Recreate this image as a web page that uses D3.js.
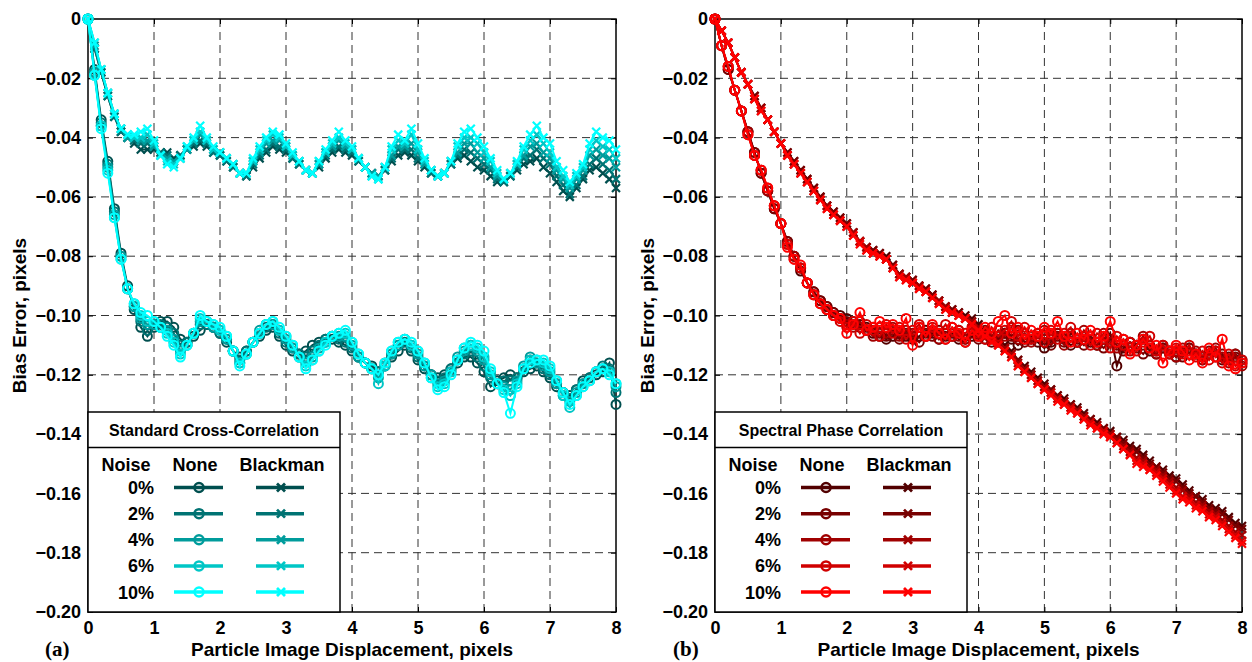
<!DOCTYPE html>
<html><head><meta charset="utf-8">
<script src="https://cdn.jsdelivr.net/npm/d3@7"></script>
<style>body{margin:0;background:#fff}svg{display:block}</style>
</head><body>
<svg id="c" width="1252" height="662"></svg>
<script>
// ---------------- DATA ----------------
const displacement = d3.range(81).map(i => i / 10); // 0 .. 8 px, step 0.1
const noiseLabels = ["0%", "2%", "4%", "6%", "10%"];
const xTicks = [0, 1, 2, 3, 4, 5, 6, 7, 8];
const yTicks = [0, -0.02, -0.04, -0.06, -0.08, -0.10, -0.12, -0.14, -0.16, -0.18, -0.20];
const panelTitles = ["Standard Cross-Correlation", "Spectral Phase Correlation"];
const panelLetters = ["(a)", "(b)"];
const cyanColors = ["#004f4f", "#007373", "#009c9c", "#00c6c6", "#00ffff"];
const redColors = ["#520000", "#780000", "#a00000", "#d00000", "#ff0000"];

// (a) Standard cross-correlation, no window (circles)
const scc_none_0 = [0,-0.017,-0.034,-0.048,-0.064,-0.079,-0.090,-0.098,-0.104,-0.107,
 -0.104,-0.102,-0.102,-0.104,-0.108,-0.109,-0.107,-0.105,-0.103,-0.104,
 -0.106,-0.109,-0.112,-0.114,-0.112,-0.109,-0.107,-0.105,-0.104,-0.107,
 -0.110,-0.112,-0.113,-0.112,-0.110,-0.109,-0.108,-0.108,-0.109,-0.110,
 -0.112,-0.114,-0.116,-0.117,-0.119,-0.117,-0.114,-0.112,-0.110,-0.112,
 -0.115,-0.118,-0.120,-0.121,-0.120,-0.118,-0.116,-0.114,-0.114,-0.116,
 -0.119,-0.124,-0.122,-0.121,-0.120,-0.121,-0.119,-0.118,-0.117,-0.119,
 -0.121,-0.124,-0.126,-0.127,-0.125,-0.122,-0.121,-0.120,-0.119,-0.116,
 -0.130];
const scc_none_2 = [0,-0.018,-0.035,-0.049,-0.065,-0.080,-0.091,-0.097,-0.102,-0.105,
 -0.103,-0.103,-0.104,-0.106,-0.110,-0.109,-0.106,-0.103,-0.103,-0.104,
 -0.106,-0.108,-0.112,-0.115,-0.112,-0.109,-0.106,-0.104,-0.103,-0.106,
 -0.109,-0.111,-0.113,-0.114,-0.112,-0.110,-0.108,-0.107,-0.108,-0.109,
 -0.111,-0.114,-0.116,-0.118,-0.119,-0.116,-0.113,-0.110,-0.109,-0.111,
 -0.114,-0.117,-0.120,-0.122,-0.121,-0.118,-0.115,-0.113,-0.112,-0.114,
 -0.117,-0.121,-0.123,-0.122,-0.122,-0.121,-0.118,-0.115,-0.116,-0.118,
 -0.120,-0.123,-0.126,-0.128,-0.125,-0.123,-0.121,-0.119,-0.117,-0.118,
 -0.126];
const scc_none_4 = [0,-0.018,-0.036,-0.050,-0.066,-0.080,-0.091,-0.097,-0.101,-0.103,
 -0.103,-0.104,-0.105,-0.108,-0.112,-0.110,-0.106,-0.102,-0.102,-0.104,
 -0.105,-0.108,-0.112,-0.116,-0.113,-0.109,-0.105,-0.103,-0.103,-0.105,
 -0.108,-0.111,-0.114,-0.116,-0.114,-0.111,-0.109,-0.107,-0.107,-0.107,
 -0.110,-0.114,-0.116,-0.118,-0.121,-0.117,-0.113,-0.110,-0.108,-0.110,
 -0.113,-0.117,-0.120,-0.123,-0.122,-0.119,-0.114,-0.112,-0.110,-0.112,
 -0.115,-0.120,-0.123,-0.124,-0.125,-0.122,-0.117,-0.114,-0.116,-0.117,
 -0.119,-0.123,-0.127,-0.129,-0.126,-0.123,-0.122,-0.119,-0.118,-0.119,
 -0.124];
const scc_none_6 = [0,-0.019,-0.036,-0.051,-0.067,-0.081,-0.091,-0.096,-0.100,-0.102,
 -0.102,-0.104,-0.106,-0.109,-0.113,-0.110,-0.106,-0.101,-0.102,-0.103,
 -0.105,-0.107,-0.112,-0.116,-0.113,-0.109,-0.106,-0.103,-0.102,-0.105,
 -0.107,-0.110,-0.114,-0.117,-0.115,-0.112,-0.109,-0.107,-0.106,-0.106,
 -0.109,-0.113,-0.116,-0.118,-0.123,-0.117,-0.112,-0.109,-0.108,-0.110,
 -0.112,-0.116,-0.121,-0.124,-0.123,-0.119,-0.115,-0.111,-0.110,-0.111,
 -0.114,-0.119,-0.123,-0.125,-0.127,-0.123,-0.118,-0.115,-0.115,-0.116,
 -0.118,-0.122,-0.127,-0.131,-0.127,-0.124,-0.122,-0.119,-0.118,-0.119,
 -0.123];
const scc_none_10 = [0,-0.019,-0.037,-0.052,-0.067,-0.081,-0.091,-0.096,-0.099,-0.100,
 -0.102,-0.104,-0.107,-0.110,-0.114,-0.110,-0.106,-0.100,-0.102,-0.103,
 -0.104,-0.107,-0.112,-0.117,-0.113,-0.109,-0.106,-0.103,-0.102,-0.104,
 -0.107,-0.110,-0.114,-0.118,-0.115,-0.112,-0.110,-0.107,-0.106,-0.105,
 -0.109,-0.113,-0.116,-0.118,-0.120,-0.116,-0.112,-0.109,-0.108,-0.109,
 -0.112,-0.116,-0.121,-0.125,-0.124,-0.120,-0.115,-0.111,-0.109,-0.110,
 -0.112,-0.118,-0.123,-0.126,-0.133,-0.124,-0.118,-0.116,-0.115,-0.115,
 -0.117,-0.122,-0.126,-0.130,-0.127,-0.124,-0.122,-0.119,-0.118,-0.120,
 -0.123];

// (a) Standard cross-correlation, Blackman window (crosses)
const scc_black_0 = [0,-0.010,-0.018,-0.026,-0.033,-0.038,-0.040,-0.042,-0.044,-0.044,
 -0.044,-0.045,-0.045,-0.047,-0.046,-0.044,-0.043,-0.042,-0.043,-0.045,
 -0.046,-0.048,-0.050,-0.052,-0.053,-0.050,-0.047,-0.045,-0.043,-0.044,
 -0.045,-0.047,-0.049,-0.051,-0.052,-0.050,-0.047,-0.045,-0.044,-0.045,
 -0.046,-0.048,-0.050,-0.052,-0.053,-0.051,-0.048,-0.046,-0.045,-0.046,
 -0.048,-0.050,-0.052,-0.053,-0.052,-0.049,-0.047,-0.046,-0.048,-0.050,
 -0.051,-0.053,-0.055,-0.055,-0.053,-0.051,-0.049,-0.048,-0.047,-0.050,
 -0.052,-0.055,-0.058,-0.060,-0.057,-0.054,-0.051,-0.050,-0.052,-0.054,
 -0.057];
const scc_black_2 = [0,-0.010,-0.018,-0.026,-0.033,-0.038,-0.040,-0.041,-0.042,-0.042,
 -0.043,-0.045,-0.046,-0.048,-0.046,-0.044,-0.042,-0.041,-0.042,-0.045,
 -0.046,-0.048,-0.050,-0.052,-0.053,-0.049,-0.046,-0.044,-0.042,-0.043,
 -0.044,-0.047,-0.049,-0.051,-0.052,-0.049,-0.046,-0.044,-0.043,-0.044,
 -0.045,-0.048,-0.050,-0.052,-0.053,-0.051,-0.047,-0.044,-0.044,-0.044,
 -0.047,-0.049,-0.052,-0.053,-0.052,-0.049,-0.046,-0.044,-0.045,-0.047,
 -0.049,-0.051,-0.054,-0.055,-0.053,-0.050,-0.047,-0.046,-0.044,-0.047,
 -0.049,-0.053,-0.056,-0.059,-0.056,-0.053,-0.049,-0.047,-0.049,-0.051,
 -0.054];
const scc_black_4 = [0,-0.009,-0.017,-0.025,-0.032,-0.037,-0.040,-0.040,-0.041,-0.041,
 -0.043,-0.046,-0.047,-0.048,-0.047,-0.044,-0.041,-0.039,-0.041,-0.044,
 -0.045,-0.047,-0.049,-0.052,-0.052,-0.048,-0.045,-0.042,-0.041,-0.041,
 -0.043,-0.046,-0.048,-0.051,-0.052,-0.049,-0.045,-0.043,-0.041,-0.043,
 -0.044,-0.047,-0.050,-0.052,-0.053,-0.050,-0.046,-0.043,-0.043,-0.042,
 -0.045,-0.049,-0.051,-0.053,-0.052,-0.048,-0.045,-0.042,-0.042,-0.045,
 -0.047,-0.050,-0.053,-0.054,-0.052,-0.049,-0.046,-0.043,-0.042,-0.045,
 -0.047,-0.051,-0.054,-0.057,-0.054,-0.051,-0.046,-0.044,-0.046,-0.047,
 -0.050];
const scc_black_6 = [0,-0.008,-0.017,-0.025,-0.032,-0.037,-0.039,-0.040,-0.040,-0.039,
 -0.042,-0.046,-0.048,-0.049,-0.047,-0.043,-0.041,-0.038,-0.041,-0.044,
 -0.045,-0.047,-0.049,-0.052,-0.052,-0.048,-0.044,-0.041,-0.039,-0.040,
 -0.043,-0.046,-0.048,-0.051,-0.052,-0.048,-0.045,-0.042,-0.040,-0.042,
 -0.044,-0.047,-0.050,-0.053,-0.054,-0.050,-0.044,-0.041,-0.042,-0.039,
 -0.044,-0.048,-0.051,-0.053,-0.052,-0.048,-0.043,-0.040,-0.040,-0.042,
 -0.045,-0.048,-0.052,-0.054,-0.052,-0.049,-0.044,-0.041,-0.039,-0.042,
 -0.045,-0.050,-0.053,-0.056,-0.053,-0.050,-0.044,-0.041,-0.043,-0.044,
 -0.047];
const scc_black_10 = [0,-0.008,-0.017,-0.025,-0.032,-0.037,-0.039,-0.039,-0.038,-0.037,
 -0.041,-0.046,-0.049,-0.050,-0.047,-0.043,-0.040,-0.036,-0.040,-0.043,
 -0.045,-0.047,-0.049,-0.052,-0.052,-0.047,-0.043,-0.040,-0.038,-0.039,
 -0.042,-0.045,-0.048,-0.051,-0.052,-0.048,-0.044,-0.041,-0.038,-0.041,
 -0.043,-0.047,-0.050,-0.053,-0.054,-0.050,-0.043,-0.039,-0.041,-0.037,
 -0.042,-0.047,-0.051,-0.053,-0.052,-0.048,-0.042,-0.038,-0.037,-0.040,
 -0.043,-0.047,-0.051,-0.054,-0.052,-0.048,-0.043,-0.039,-0.036,-0.040,
 -0.042,-0.048,-0.051,-0.055,-0.052,-0.049,-0.042,-0.038,-0.040,-0.041,
 -0.044];

// (b) Spectral phase correlation, no window (circles)
const spc_none_0 = [0,-0.009,-0.017,-0.024,-0.031,-0.038,-0.045,-0.052,-0.058,-0.064,
 -0.069,-0.075,-0.080,-0.085,-0.089,-0.092,-0.095,-0.097,-0.099,-0.100,
 -0.101,-0.102,-0.103,-0.104,-0.106,-0.107,-0.108,-0.107,-0.106,-0.107,
 -0.108,-0.107,-0.105,-0.106,-0.108,-0.107,-0.106,-0.108,-0.109,-0.107,
 -0.106,-0.108,-0.109,-0.107,-0.106,-0.108,-0.110,-0.108,-0.107,-0.109,
 -0.111,-0.109,-0.106,-0.108,-0.110,-0.109,-0.107,-0.109,-0.110,-0.108,
 -0.106,-0.117,-0.111,-0.109,-0.110,-0.108,-0.112,-0.113,-0.111,-0.112,
 -0.114,-0.112,-0.111,-0.113,-0.114,-0.113,-0.112,-0.115,-0.114,-0.113,
 -0.115];
const spc_none_2 = [0,-0.009,-0.017,-0.024,-0.031,-0.038,-0.045,-0.052,-0.058,-0.064,
 -0.069,-0.075,-0.080,-0.084,-0.089,-0.092,-0.095,-0.097,-0.099,-0.101,
 -0.102,-0.103,-0.104,-0.105,-0.104,-0.106,-0.107,-0.105,-0.108,-0.106,
 -0.107,-0.109,-0.106,-0.107,-0.105,-0.108,-0.107,-0.105,-0.108,-0.106,
 -0.108,-0.105,-0.107,-0.109,-0.106,-0.107,-0.105,-0.109,-0.108,-0.106,
 -0.108,-0.110,-0.107,-0.109,-0.106,-0.108,-0.110,-0.107,-0.109,-0.111,
 -0.108,-0.110,-0.112,-0.109,-0.111,-0.113,-0.110,-0.112,-0.111,-0.113,
 -0.112,-0.114,-0.111,-0.113,-0.115,-0.112,-0.114,-0.113,-0.115,-0.114,
 -0.116];
const spc_none_4 = [0,-0.009,-0.016,-0.024,-0.031,-0.038,-0.046,-0.051,-0.058,-0.063,
 -0.069,-0.076,-0.080,-0.084,-0.089,-0.093,-0.096,-0.098,-0.100,-0.101,
 -0.103,-0.104,-0.102,-0.105,-0.107,-0.104,-0.106,-0.104,-0.107,-0.105,
 -0.106,-0.104,-0.107,-0.105,-0.108,-0.106,-0.104,-0.107,-0.108,-0.105,
 -0.107,-0.106,-0.108,-0.105,-0.107,-0.104,-0.108,-0.106,-0.109,-0.107,
 -0.105,-0.108,-0.106,-0.110,-0.107,-0.109,-0.105,-0.108,-0.110,-0.106,
 -0.109,-0.111,-0.108,-0.112,-0.110,-0.107,-0.111,-0.113,-0.110,-0.112,
 -0.114,-0.111,-0.113,-0.112,-0.115,-0.113,-0.111,-0.114,-0.116,-0.113,
 -0.117];
const spc_none_6 = [0,-0.009,-0.016,-0.024,-0.031,-0.039,-0.046,-0.051,-0.057,-0.063,
 -0.069,-0.076,-0.081,-0.084,-0.089,-0.093,-0.096,-0.098,-0.100,-0.102,
 -0.104,-0.102,-0.106,-0.103,-0.105,-0.107,-0.103,-0.106,-0.104,-0.108,
 -0.105,-0.103,-0.107,-0.104,-0.106,-0.103,-0.107,-0.105,-0.106,-0.104,
 -0.106,-0.108,-0.104,-0.107,-0.105,-0.102,-0.107,-0.104,-0.108,-0.106,
 -0.109,-0.105,-0.108,-0.106,-0.104,-0.109,-0.107,-0.110,-0.106,-0.108,
 -0.111,-0.107,-0.110,-0.109,-0.112,-0.109,-0.107,-0.112,-0.110,-0.113,
 -0.111,-0.113,-0.110,-0.114,-0.112,-0.115,-0.112,-0.116,-0.113,-0.117,
 -0.115];
const spc_none_10 = [0,-0.009,-0.016,-0.024,-0.031,-0.039,-0.046,-0.051,-0.057,-0.063,
 -0.069,-0.077,-0.081,-0.083,-0.089,-0.093,-0.096,-0.098,-0.100,-0.101,
 -0.106,-0.103,-0.099,-0.105,-0.104,-0.102,-0.104,-0.103,-0.105,-0.101,
 -0.110,-0.104,-0.107,-0.103,-0.106,-0.108,-0.104,-0.106,-0.109,-0.105,
 -0.107,-0.104,-0.106,-0.102,-0.100,-0.106,-0.104,-0.108,-0.105,-0.107,
 -0.104,-0.106,-0.102,-0.107,-0.109,-0.106,-0.108,-0.105,-0.109,-0.107,
 -0.102,-0.109,-0.108,-0.113,-0.110,-0.108,-0.111,-0.110,-0.116,-0.112,
 -0.110,-0.112,-0.115,-0.113,-0.116,-0.111,-0.114,-0.108,-0.117,-0.118,
 -0.116];

// (b) Spectral phase correlation, Blackman window (crosses)
const spc_black_0 = [0,-0.004,-0.008,-0.013,-0.018,-0.022,-0.026,-0.030,-0.034,-0.038,
 -0.042,-0.045,-0.048,-0.051,-0.054,-0.057,-0.060,-0.063,-0.065,-0.067,
 -0.069,-0.072,-0.075,-0.077,-0.078,-0.079,-0.080,-0.083,-0.086,-0.087,
 -0.088,-0.090,-0.091,-0.093,-0.095,-0.097,-0.098,-0.099,-0.100,-0.101,
 -0.103,-0.105,-0.107,-0.108,-0.110,-0.112,-0.115,-0.117,-0.119,-0.121,
 -0.123,-0.125,-0.127,-0.128,-0.130,-0.131,-0.133,-0.135,-0.136,-0.138,
 -0.139,-0.141,-0.142,-0.144,-0.145,-0.147,-0.149,-0.151,-0.152,-0.154,
 -0.155,-0.157,-0.159,-0.161,-0.162,-0.164,-0.165,-0.166,-0.168,-0.170,
 -0.171];
const spc_black_2 = [0,-0.004,-0.008,-0.013,-0.018,-0.022,-0.026,-0.030,-0.034,-0.038,
 -0.042,-0.045,-0.048,-0.051,-0.054,-0.057,-0.060,-0.063,-0.065,-0.067,
 -0.069,-0.072,-0.075,-0.077,-0.078,-0.079,-0.081,-0.083,-0.086,-0.087,
 -0.088,-0.090,-0.091,-0.093,-0.095,-0.097,-0.098,-0.099,-0.101,-0.102,
 -0.104,-0.106,-0.107,-0.109,-0.111,-0.113,-0.115,-0.118,-0.120,-0.122,
 -0.124,-0.125,-0.127,-0.129,-0.130,-0.132,-0.134,-0.135,-0.137,-0.138,
 -0.140,-0.141,-0.143,-0.145,-0.146,-0.148,-0.150,-0.151,-0.153,-0.155,
 -0.156,-0.158,-0.160,-0.161,-0.163,-0.165,-0.166,-0.167,-0.169,-0.171,
 -0.172];
const spc_black_4 = [0,-0.004,-0.008,-0.013,-0.018,-0.022,-0.027,-0.030,-0.034,-0.038,
 -0.042,-0.046,-0.049,-0.052,-0.055,-0.058,-0.061,-0.063,-0.066,-0.068,
 -0.070,-0.072,-0.075,-0.077,-0.079,-0.080,-0.081,-0.084,-0.086,-0.087,
 -0.089,-0.090,-0.092,-0.094,-0.095,-0.097,-0.099,-0.100,-0.101,-0.102,
 -0.104,-0.106,-0.108,-0.109,-0.111,-0.113,-0.116,-0.118,-0.120,-0.122,
 -0.124,-0.126,-0.128,-0.129,-0.131,-0.132,-0.134,-0.136,-0.137,-0.139,
 -0.140,-0.142,-0.144,-0.146,-0.148,-0.149,-0.151,-0.152,-0.154,-0.156,
 -0.158,-0.159,-0.161,-0.163,-0.164,-0.166,-0.167,-0.169,-0.171,-0.173,
 -0.174];
const spc_black_6 = [0,-0.004,-0.008,-0.013,-0.018,-0.022,-0.027,-0.031,-0.034,-0.038,
 -0.042,-0.046,-0.049,-0.052,-0.055,-0.058,-0.061,-0.064,-0.066,-0.068,
 -0.070,-0.073,-0.075,-0.078,-0.079,-0.080,-0.081,-0.084,-0.087,-0.088,
 -0.089,-0.091,-0.092,-0.094,-0.096,-0.098,-0.099,-0.100,-0.101,-0.103,
 -0.105,-0.107,-0.108,-0.110,-0.112,-0.114,-0.117,-0.119,-0.121,-0.123,
 -0.125,-0.126,-0.128,-0.130,-0.131,-0.133,-0.135,-0.136,-0.138,-0.139,
 -0.141,-0.143,-0.145,-0.147,-0.149,-0.150,-0.152,-0.153,-0.155,-0.157,
 -0.159,-0.161,-0.162,-0.164,-0.165,-0.167,-0.168,-0.170,-0.172,-0.174,
 -0.176];
const spc_black_10 = [0,-0.004,-0.008,-0.013,-0.018,-0.022,-0.027,-0.031,-0.034,-0.038,
 -0.042,-0.046,-0.049,-0.052,-0.055,-0.058,-0.061,-0.064,-0.066,-0.068,
 -0.070,-0.073,-0.076,-0.078,-0.079,-0.080,-0.081,-0.084,-0.087,-0.088,
 -0.089,-0.091,-0.092,-0.094,-0.096,-0.098,-0.099,-0.100,-0.101,-0.103,
 -0.105,-0.107,-0.109,-0.110,-0.112,-0.114,-0.117,-0.119,-0.121,-0.123,
 -0.125,-0.127,-0.129,-0.130,-0.132,-0.133,-0.135,-0.137,-0.138,-0.140,
 -0.141,-0.143,-0.145,-0.147,-0.150,-0.151,-0.152,-0.154,-0.156,-0.158,
 -0.160,-0.162,-0.163,-0.165,-0.166,-0.168,-0.169,-0.171,-0.173,-0.175,
 -0.177];

// ---------------- DRAW ----------------
const svg = d3.select("#c");
const FONT = "'Liberation Sans', Arial, Helvetica, sans-serif";
const plotTop = 19, plotBottom = 612;

const panels = [
  { left: 88, right: 616, colors: cyanColors, none: [scc_none_0, scc_none_2, scc_none_4, scc_none_6, scc_none_10],
    black: [scc_black_0, scc_black_2, scc_black_4, scc_black_6, scc_black_10], title: panelTitles[0], letter: panelLetters[0], letterX: 45, ylabX: 26 },
  { left: 715, right: 1242, colors: redColors, none: [spc_none_0, spc_none_2, spc_none_4, spc_none_6, spc_none_10],
    black: [spc_black_0, spc_black_2, spc_black_4, spc_black_6, spc_black_10], title: panelTitles[1], letter: panelLetters[1], letterX: 673, ylabX: 654 }
];

const crossPath = "M-4,-4L4,4M-4,4L4,-4";
const yFmt = v => (Math.abs(v) < 1e-9 ? "0" : d3.format(".2f")(v));

panels.forEach(p => {
  const x = d3.scaleLinear().domain([0, 8]).range([p.left, p.right]);
  const y = d3.scaleLinear().domain([-0.2, 0]).range([plotBottom, plotTop]);
  const g = svg.append("g");

  // grid
  g.append("g").selectAll("line").data(xTicks.slice(1, -1)).join("line")
    .attr("x1", d => x(d)).attr("x2", d => x(d)).attr("y1", plotTop).attr("y2", plotBottom)
    .attr("stroke", "#333").attr("stroke-width", 1).attr("stroke-dasharray", "8,5");
  g.append("g").selectAll("line").data(yTicks.slice(1, -1)).join("line")
    .attr("y1", d => y(d)).attr("y2", d => y(d)).attr("x1", p.left).attr("x2", p.right)
    .attr("stroke", "#333").attr("stroke-width", 1).attr("stroke-dasharray", "8,5");

  // axes via d3 axis generators (inward ticks)
  const ax = g.append("g").attr("transform", `translate(0,${plotBottom})`)
    .call(d3.axisBottom(x).tickValues(xTicks).tickSize(-5).tickPadding(9).tickFormat(d3.format("d")));
  const ay = g.append("g").attr("transform", `translate(${p.left},0)`)
    .call(d3.axisLeft(y).tickValues(yTicks).tickSize(-5).tickPadding(7).tickFormat(yFmt));
  const axT = g.append("g").attr("transform", `translate(0,${plotTop})`)
    .call(d3.axisTop(x).tickValues(xTicks).tickSize(-5).tickFormat(""));
  const ayR = g.append("g").attr("transform", `translate(${p.right},0)`)
    .call(d3.axisRight(y).tickValues(yTicks).tickSize(-5).tickFormat(""));
  [ax, ay, axT, ayR].forEach(a => {
    a.select(".domain").remove();
    a.selectAll(".tick line").attr("stroke", "#000").attr("stroke-width", 1);
    a.selectAll("text").attr("font-family", FONT).attr("font-weight", "bold")
      .attr("font-size", 18).attr("fill", "#000");
  });

  // frame
  g.append("rect").attr("x", p.left).attr("y", plotTop).attr("width", p.right - p.left).attr("height", plotBottom - plotTop)
    .attr("fill", "none").attr("stroke", "#000").attr("stroke-width", 1.5);

  // data
  const line = d3.line().x((d, i) => x(displacement[i])).y(d => y(d));
  const dg = g.append("g");
  [0, 1, 2, 3, 4].forEach(k => {
    const c = p.colors[k];
    // Blackman (crosses)
    dg.append("path").datum(p.black[k]).attr("d", line).attr("fill", "none")
      .attr("stroke", c).attr("stroke-width", 2);
    dg.append("g").selectAll("path").data(p.black[k]).join("path")
      .attr("transform", (d, i) => `translate(${x(displacement[i])},${y(d)})`)
      .attr("d", crossPath).attr("stroke", c).attr("stroke-width", 2.2).attr("fill", "none");
    // None (circles)
    dg.append("path").datum(p.none[k]).attr("d", line).attr("fill", "none")
      .attr("stroke", c).attr("stroke-width", 2);
    dg.append("g").selectAll("circle").data(p.none[k]).join("circle")
      .attr("cx", (d, i) => x(displacement[i])).attr("cy", d => y(d)).attr("r", 4.5)
      .attr("fill", "none").attr("stroke", c).attr("stroke-width", 2);
  });

  // legend
  const L = p.left, lw = 252;
  const lg = g.append("g");
  lg.append("rect").attr("x", L).attr("y", 412).attr("width", lw).attr("height", plotBottom - 412)
    .attr("fill", "#fff").attr("stroke", "#000").attr("stroke-width", 1.5);
  lg.append("line").attr("x1", L).attr("x2", L + lw).attr("y1", 447.5).attr("y2", 447.5)
    .attr("stroke", "#000").attr("stroke-width", 1.5);
  lg.append("text").attr("x", L + lw / 2).attr("y", 436).attr("text-anchor", "middle")
    .attr("font-family", FONT).attr("font-weight", "bold").attr("font-size", 16).text(p.title);
  const hdr = [["Noise", L + 38], ["None", L + 107], ["Blackman", L + 194]];
  lg.selectAll("text.h").data(hdr).join("text").attr("class", "h")
    .attr("x", d => d[1]).attr("y", 471).attr("text-anchor", "middle")
    .attr("font-family", FONT).attr("font-weight", "bold").attr("font-size", 18).text(d => d[0]);
  const rowY = d3.scalePoint().domain(noiseLabels).range([487.5, 592]);
  noiseLabels.forEach((lab, k) => {
    const yy = rowY(lab), c = p.colors[k];
    lg.append("text").attr("x", L + 66).attr("y", yy + 6.5).attr("text-anchor", "end")
      .attr("font-family", FONT).attr("font-weight", "bold").attr("font-size", 18).text(lab);
    lg.append("line").attr("x1", L + 86).attr("x2", L + 135).attr("y1", yy).attr("y2", yy)
      .attr("stroke", c).attr("stroke-width", 3.5);
    lg.append("circle").attr("cx", L + 111).attr("cy", yy).attr("r", 4.5)
      .attr("fill", "none").attr("stroke", c).attr("stroke-width", 2.5);
    lg.append("line").attr("x1", L + 168).attr("x2", L + 216).attr("y1", yy).attr("y2", yy)
      .attr("stroke", c).attr("stroke-width", 3.5);
    lg.append("path").attr("transform", `translate(${L + 193},${yy})`).attr("d", crossPath)
      .attr("stroke", c).attr("stroke-width", 2.8).attr("fill", "none");
  });

  // axis titles
  g.append("text").attr("x", (p.left + p.right) / 2).attr("y", 656).attr("text-anchor", "middle")
    .attr("font-family", FONT).attr("font-weight", "bold").attr("font-size", 19)
    .text("Particle Image Displacement, pixels");
  g.append("text").attr("transform", `translate(${p.ylabX},${(plotTop + plotBottom) / 2}) rotate(-90)`)
    .attr("text-anchor", "middle").attr("font-family", FONT).attr("font-weight", "bold").attr("font-size", 19)
    .text("Bias Error, pixels");
  g.append("text").attr("x", p.letterX).attr("y", 656)
    .attr("font-family", "'Liberation Serif', 'Times New Roman', serif").attr("font-weight", "bold").attr("font-size", 21)
    .text(p.letter);
});
</script>
</body></html>
